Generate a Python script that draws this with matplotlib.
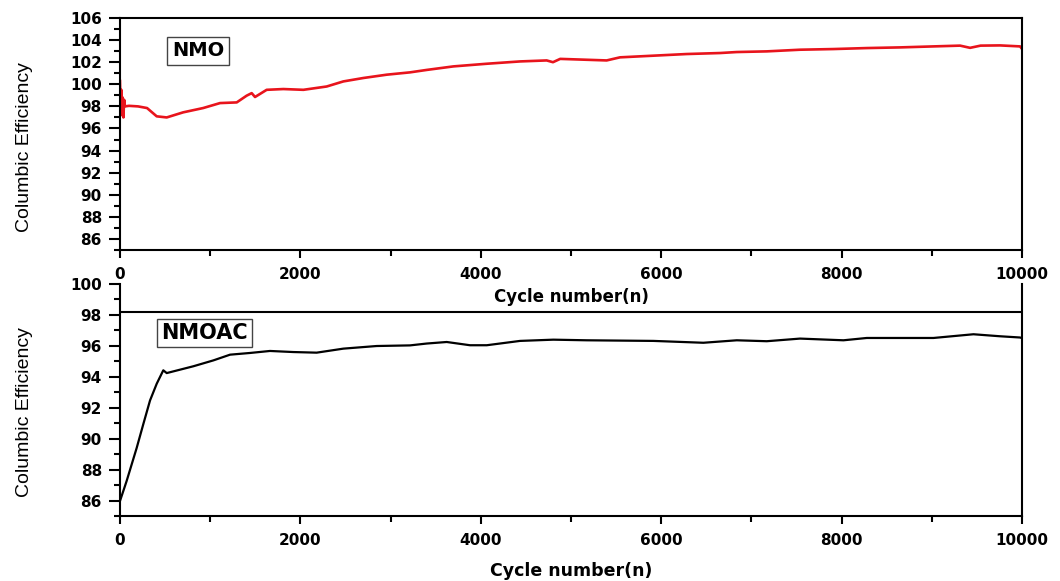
"""
Columbic efficiency of NMO and NMOAC over 10000 cycles
"""
import matplotlib
matplotlib.use("Agg")
import matplotlib.pyplot as plt
from matplotlib.ticker import MultipleLocator

# NMO (red)
nmo_cycle = [0, 8, 15, 22, 30, 38, 46, 55, 100, 200, 300, 407, 518, 700, 922,
             1109, 1294, 1404, 1460, 1497, 1626, 1811, 2033, 2291, 2476, 2698,
             2957, 3215, 3400, 3696, 4066, 4435, 4730, 4800, 4880, 5174, 5395,
             5543, 5913, 6283, 6652, 6837, 7170, 7539, 7909, 8279, 8648, 9018,
             9313, 9424, 9540, 9756, 9978, 10000]
nmo_ce = [100.3, 97.5, 99.5, 97.2, 98.8, 97.0, 98.6, 98.0, 98.05, 98.0, 97.85,
          97.1, 97.0, 97.46, 97.85, 98.3, 98.36, 98.97, 99.2, 98.85, 99.5,
          99.57, 99.5, 99.8, 100.26, 100.57, 100.87, 101.08, 101.3, 101.62,
          101.86, 102.07, 102.16, 102.0, 102.3, 102.22, 102.16, 102.44,
          102.59, 102.74, 102.83, 102.92, 102.98, 103.13, 103.19, 103.28,
          103.34, 103.43, 103.5, 103.3, 103.5, 103.52, 103.43, 103.2]

# NMOAC (black)
nmoac_cycle = [0, 74, 185, 259, 333, 407, 480, 518, 813, 1035, 1220, 1441,
               1663, 1922, 2180, 2476, 2846, 3215, 3400, 3622, 3880, 4066,
               4435, 4804, 5174, 5913, 6467, 6837, 7170, 7539, 8020, 8279,
               8648, 9018, 9461, 9756, 9978, 10000]
nmoac_ce = [85.97, 87.27, 89.4, 90.95, 92.47, 93.55, 94.42, 94.24, 94.68,
            95.06, 95.43, 95.54, 95.67, 95.6, 95.56, 95.82, 95.99, 96.03,
            96.15, 96.25, 96.04, 96.04, 96.32, 96.4, 96.36, 96.32, 96.2,
            96.36, 96.3, 96.47, 96.36, 96.51, 96.51, 96.51, 96.75, 96.62,
            96.54, 96.5]

plt.rcParams["font.family"] = "DejaVu Sans"
plt.rcParams["font.weight"] = "bold"

fig = plt.figure(figsize=(10.6, 5.81), dpi=100)
ax2 = fig.add_axes([0.1132, 0.1119, 0.851, 0.3993])
ax1 = fig.add_axes([0.1132, 0.5697, 0.851, 0.3993])
ax2.patch.set_visible(False)

ylab_font = dict(family=["Liberation Sans"], fontsize=14, fontweight="normal")

for ax in (ax1, ax2):
    ax.set_xlim(0, 10000)
    ax.xaxis.set_major_locator(MultipleLocator(2000))
    ax.xaxis.set_minor_locator(MultipleLocator(1000))
    ax.yaxis.set_major_locator(MultipleLocator(2))
    ax.yaxis.set_minor_locator(MultipleLocator(1))
    ax.tick_params(axis="x", which="major", direction="out", length=6,
                   width=1.5, pad=6, labelsize=11)
    ax.tick_params(axis="x", which="minor", direction="out", length=4,
                   width=1.5)
    ax.tick_params(axis="y", which="major", direction="out", length=8,
                   width=1.5, pad=5, labelsize=11)
    ax.tick_params(axis="y", which="minor", direction="out", length=4,
                   width=1.5)
    for s in ax.spines.values():
        s.set_linewidth(1.5)
    ax.set_ylabel("Columbic Efficiency", **ylab_font)

# top panel
ax1.plot(nmo_cycle, nmo_ce, color="#e8141c", lw=1.9)
ax1.set_ylim(85, 106)
ax1.set_xlabel("Cycle number(n)", fontsize=12, fontweight="bold")
ax1.xaxis.set_label_coords(0.5, -0.165)
ax1.yaxis.set_label_coords(-0.0965, 0.445)
ax1.patch.set_visible(False)
ax1.text(0.0865, 0.858, "NMO", transform=ax1.transAxes, fontsize=14,
         fontweight="bold", ha="center", va="center",
         bbox=dict(boxstyle="square,pad=0.25", fc="white", ec="#444444", lw=1))

# bottom panel
ax2.plot(nmoac_cycle, nmoac_ce, color="black", lw=1.6)
ax2.set_ylim(85, 100)
ax2.spines["top"].set_visible(False)
ax2.axhline(98.2, color="black", lw=1.5)
ax2.set_xlabel("Cycle number(n)", fontsize=12.5, fontweight="bold")
ax2.xaxis.set_label_coords(0.5, -0.198)
ax2.yaxis.set_label_coords(-0.0965, 0.45)
ax2.text(0.094, 0.79, "NMOAC", transform=ax2.transAxes, fontsize=15,
         fontweight="bold", ha="center", va="center",
         bbox=dict(boxstyle="square,pad=0.2", fc="white", ec="#444444", lw=1))

plt.savefig("out.png", dpi=100, facecolor="white")
